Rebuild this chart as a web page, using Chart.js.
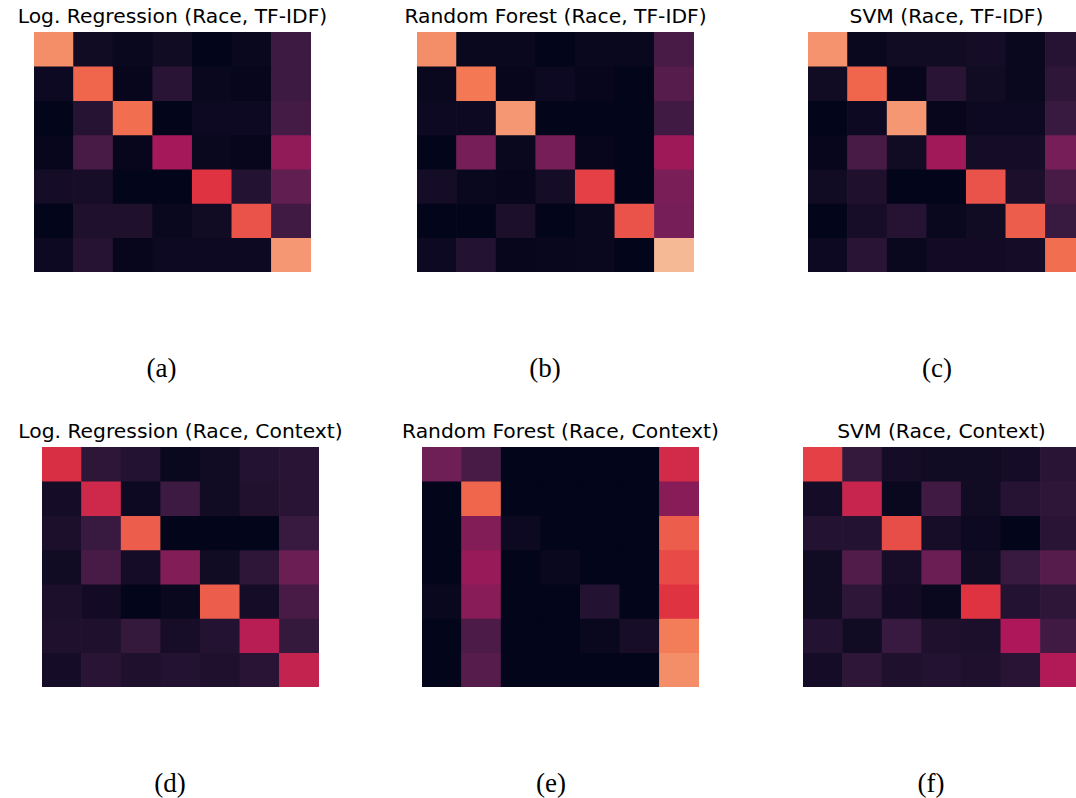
<!DOCTYPE html>
<html>
<head>
<meta charset="utf-8">
<script src="https://cdn.jsdelivr.net/npm/chart.js@4/dist/chart.umd.min.js"></script>
<style>
  html, body { margin: 0; padding: 0; background: #fff; }
  body { width: 1076px; height: 798px; position: relative; overflow: hidden; }
  canvas { position: absolute; }
  .ttl { position: absolute; font-family: 'DejaVu Sans', sans-serif; font-size: 20.3px; line-height: 1; white-space: nowrap; transform: translateX(-50%); color: #000; }
  .cap { position: absolute; font-family: 'Liberation Serif', serif; font-size: 27px; line-height: 1; white-space: nowrap; transform: translate(-50%, -50%); color: #000; }
</style>
</head>
<body>
<canvas id="lrTfidf" width="277" height="240"></canvas>
<canvas id="rfTfidf" width="277" height="240"></canvas>
<canvas id="svmTfidf" width="277" height="240"></canvas>
<canvas id="lrContext" width="277" height="240"></canvas>
<canvas id="rfContext" width="277" height="240"></canvas>
<canvas id="svmContext" width="277" height="240"></canvas>
<script>
// classes (predicted = columns, true = rows)
const classes = ['0', '1', '2', '3', '4', '5', '6'];

// normalized confusion values (row = true class)
const lrTfidf = [
  [0.77, 0.04, 0.02, 0.04, 0.00, 0.02, 0.16],
  [0.03, 0.68, 0.01, 0.11, 0.02, 0.01, 0.16],
  [0.00, 0.10, 0.70, 0.00, 0.03, 0.03, 0.18],
  [0.01, 0.19, 0.01, 0.41, 0.02, 0.01, 0.36],
  [0.05, 0.06, 0.00, 0.00, 0.57, 0.09, 0.25],
  [0.00, 0.08, 0.08, 0.02, 0.04, 0.64, 0.17],
  [0.03, 0.10, 0.01, 0.03, 0.03, 0.03, 0.79]
];
const rfTfidf = [
  [0.77, 0.02, 0.02, 0.00, 0.02, 0.02, 0.19],
  [0.02, 0.72, 0.01, 0.03, 0.01, 0.00, 0.22],
  [0.03, 0.03, 0.79, 0.00, 0.00, 0.00, 0.17],
  [0.00, 0.30, 0.02, 0.30, 0.01, 0.00, 0.39],
  [0.05, 0.02, 0.01, 0.05, 0.60, 0.00, 0.31],
  [0.00, 0.00, 0.07, 0.00, 0.02, 0.64, 0.30],
  [0.03, 0.09, 0.01, 0.015, 0.02, 0.00, 0.87]
];
const svmTfidf = [
  [0.78, 0.02, 0.04, 0.04, 0.05, 0.02, 0.10],
  [0.04, 0.68, 0.01, 0.11, 0.04, 0.02, 0.12],
  [0.00, 0.03, 0.79, 0.01, 0.03, 0.03, 0.15],
  [0.01, 0.19, 0.04, 0.40, 0.05, 0.05, 0.30],
  [0.04, 0.08, 0.00, 0.00, 0.64, 0.07, 0.19],
  [0.00, 0.06, 0.10, 0.02, 0.04, 0.66, 0.15],
  [0.03, 0.11, 0.02, 0.045, 0.045, 0.05, 0.70]
];
const lrContext = [
  [0.55, 0.12, 0.09, 0.02, 0.04, 0.09, 0.11],
  [0.05, 0.52, 0.03, 0.16, 0.04, 0.085, 0.11],
  [0.07, 0.15, 0.66, 0.00, 0.00, 0.00, 0.15],
  [0.04, 0.19, 0.05, 0.33, 0.04, 0.12, 0.27],
  [0.07, 0.045, 0.00, 0.02, 0.66, 0.05, 0.19],
  [0.08, 0.08, 0.14, 0.06, 0.09, 0.46, 0.14],
  [0.05, 0.11, 0.08, 0.09, 0.08, 0.11, 0.49]
];
const rfContext = [
  [0.28, 0.19, 0.00, 0.00, 0.00, 0.00, 0.53],
  [0.00, 0.68, 0.00, 0.00, 0.00, 0.00, 0.34],
  [0.00, 0.33, 0.03, 0.00, 0.00, 0.00, 0.66],
  [0.00, 0.38, 0.00, 0.02, 0.00, 0.00, 0.62],
  [0.02, 0.34, 0.00, 0.00, 0.09, 0.00, 0.57],
  [0.00, 0.20, 0.00, 0.00, 0.02, 0.06, 0.73],
  [0.00, 0.22, 0.00, 0.00, 0.00, 0.00, 0.77]
];
const svmContext = [
  [0.60, 0.14, 0.05, 0.04, 0.04, 0.05, 0.11],
  [0.05, 0.50, 0.02, 0.17, 0.04, 0.10, 0.12],
  [0.09, 0.09, 0.63, 0.06, 0.03, 0.00, 0.11],
  [0.04, 0.21, 0.06, 0.27, 0.04, 0.15, 0.22],
  [0.04, 0.12, 0.045, 0.02, 0.57, 0.09, 0.12],
  [0.09, 0.04, 0.15, 0.08, 0.07, 0.43, 0.17],
  [0.05, 0.12, 0.08, 0.09, 0.08, 0.11, 0.44]
];

const titles = [
  'Log. Regression (Race, TF-IDF)', 'Random Forest (Race, TF-IDF)', 'SVM (Race, TF-IDF)',
  'Log. Regression (Race, Context)', 'Random Forest (Race, Context)', 'SVM (Race, Context)'
];
const captions = ['(a)', '(b)', '(c)', '(d)', '(e)', '(f)'];

// rocket colormap stops
const rocket = ['#03051a', '#35193e', '#701f57', '#ad1759', '#e13342', '#f37651', '#f6b48f', '#faebdd'];
function hex(h) { return [1, 3, 5].map(i => parseInt(h.substr(i, 2), 16)); }
function rocketColor(v) {
  v = Math.max(0, Math.min(1, v));
  const p = v * (rocket.length - 1);
  const i = Math.min(Math.floor(p), rocket.length - 2);
  const t = p - i;
  const a = hex(rocket[i]), b = hex(rocket[i + 1]);
  const c = a.map((x, k) => Math.round(x + (b[k] - x) * t));
  return 'rgb(' + c.join(',') + ')';
}

// panel placement: heatmap left/top, caption centre
const panels = [
  { id: 'lrTfidf', m: lrTfidf, left: 34, top: 32, capX: 161.5, capY: 367.5 },
  { id: 'rfTfidf', m: rfTfidf, left: 417, top: 32, capX: 545, capY: 367.5 },
  { id: 'svmTfidf', m: svmTfidf, left: 808, top: 32, capX: 937, capY: 367.5 },
  { id: 'lrContext', m: lrContext, left: 42, top: 447, capX: 170, capY: 782.5 },
  { id: 'rfContext', m: rfContext, left: 422, top: 447, capX: 551, capY: 782.5 },
  { id: 'svmContext', m: svmContext, left: 803, top: 447, capX: 931, capY: 782.5 }
];

function addText(cls, txt, x, y) {
  const d = document.createElement('div');
  d.className = cls;
  d.textContent = txt;
  d.style.left = x + 'px';
  d.style.top = y + 'px';
  document.body.appendChild(d);
}

panels.forEach((p, n) => {
  const el = document.getElementById(p.id);
  el.style.left = p.left + 'px';
  el.style.top = p.top + 'px';

  new Chart(el, {
    type: 'bar',
    data: {
      labels: classes,
      datasets: p.m.map(row => ({
        data: row.map(() => 1),
        backgroundColor: row.map(rocketColor),
        borderWidth: 0,
        barPercentage: 1,
        categoryPercentage: 1
      }))
    },
    options: {
      responsive: false,
      animation: false,
      layout: { padding: 0 },
      scales: {
        x: { stacked: true, display: false },
        y: { stacked: true, display: false, reverse: true, min: 0, max: 7 }
      },
      plugins: {
        legend: { display: false },
        tooltip: { enabled: false },
        title: { display: false }
      }
    }
  });

  addText('ttl', titles[n], p.left + 138.5, p.top - 26);
  addText('cap', captions[n], p.capX, p.capY);
});
</script>
</body>
</html>
